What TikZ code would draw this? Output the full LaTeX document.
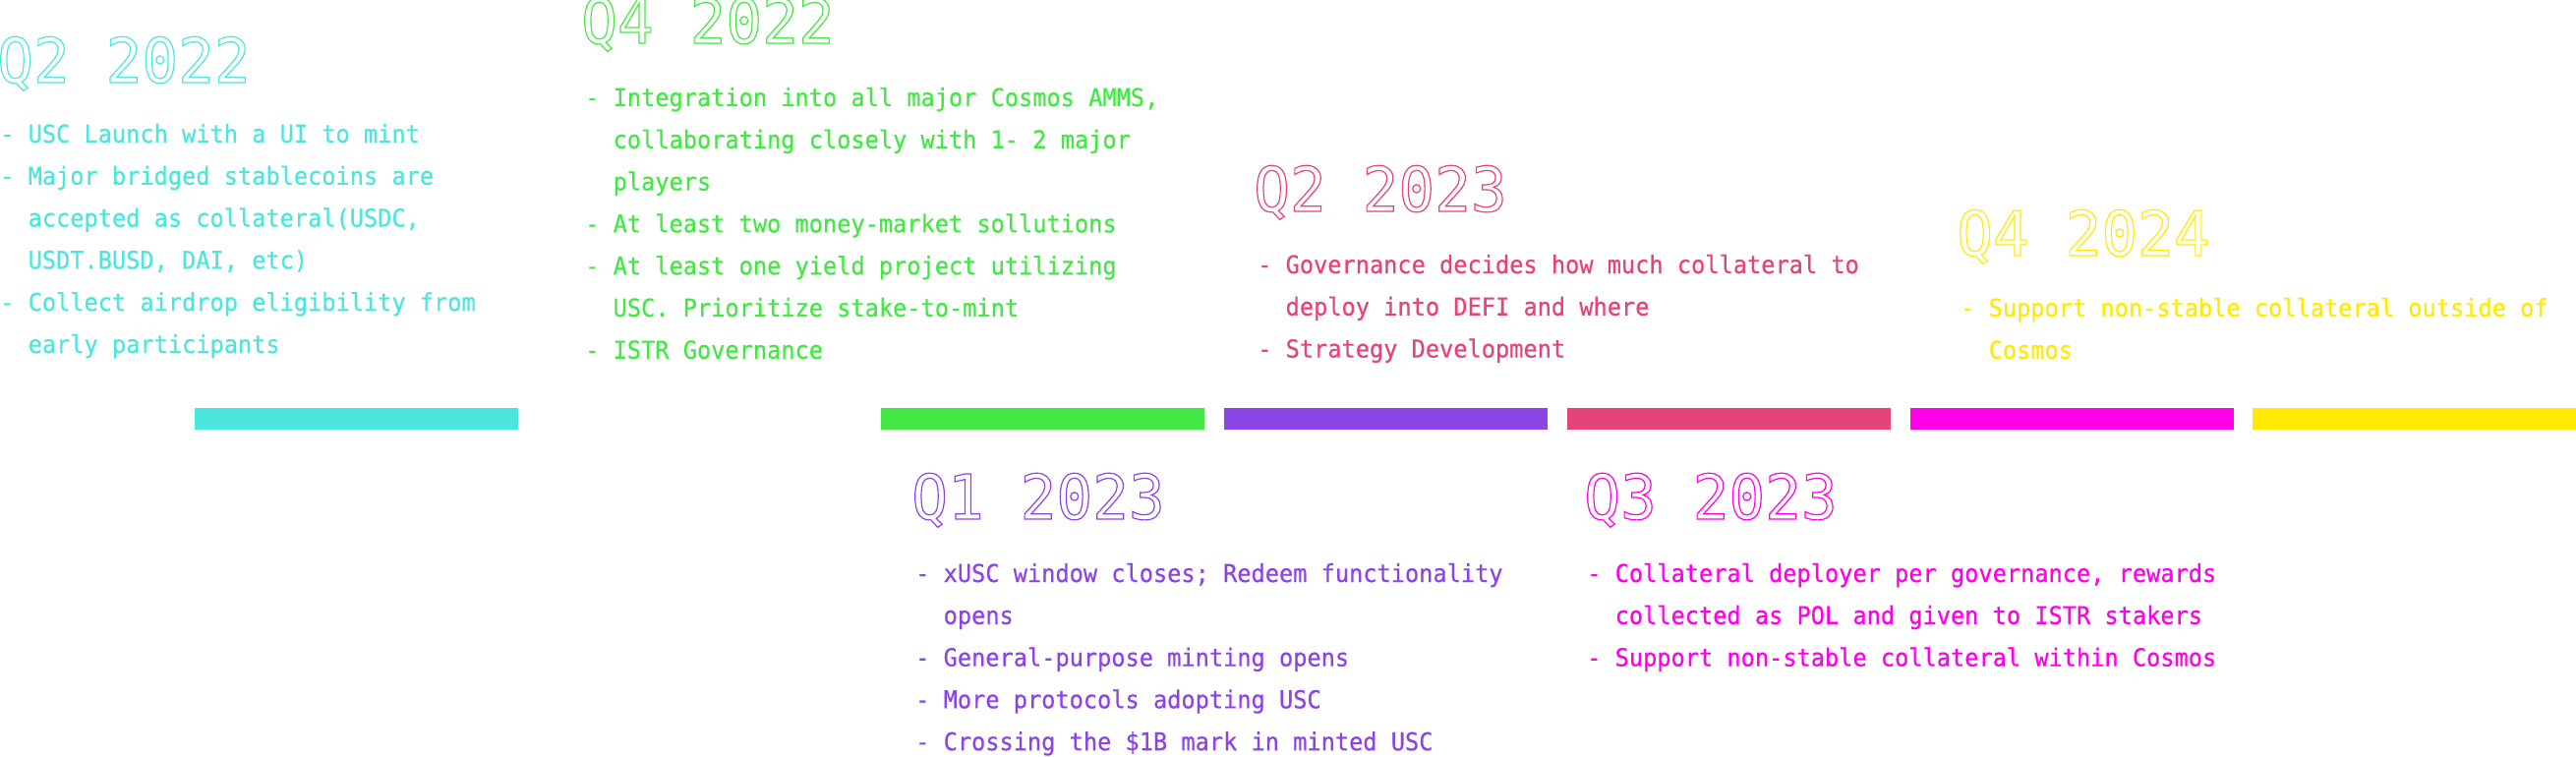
\documentclass[tikz,border=0pt]{standalone}
\usepackage{fontspec}
\newfontfamily\monof[FakeStretch=0.945,FakeBold=0.5]{DejaVu Sans Mono}
\newfontfamily\titlef[FakeStretch=0.97]{DejaVu Sans Mono}
\definecolor{ccyan}{HTML}{4CE6DF}
\definecolor{cgreen}{HTML}{44E845}
\definecolor{cpurple}{HTML}{8D44E6}
\definecolor{cred}{HTML}{E5447A}
\definecolor{cmag}{HTML}{FF00E8}
\definecolor{cyel}{HTML}{FFEA00}
\newcommand\outl[1]{\special{pdf:literal direct 1 Tr 1.2 w}#1\special{pdf:literal direct 0 Tr 0.4 w}}
\newcommand\rmitem[1]{\hbox{-~#1}}
\newcommand\rmcont[1]{\hbox{\phantom{-}~#1}}
\newcommand\rmblock[1]{\vtop{\baselineskip=42.8pt\lineskiplimit=-100pt #1}}
\tikzset{
  title/.style={anchor=base west, inner sep=0pt, font=\titlef\fontsize{63}{63}\selectfont},
  body/.style={anchor=base west, inner sep=0pt, font=\monof\fontsize{25}{42.8}\selectfont},
  bar/.style={draw=none, inner sep=0pt, outer sep=0pt, minimum width=329pt, minimum height=22pt, anchor=north west}
}
\begin{document}
\begin{tikzpicture}[x=1pt,y=-1pt]
\useasboundingbox (0,0) rectangle (2620,770);
% bars
\node[bar, fill=ccyan]   (b1) at (198,415) {};
\node[bar, fill=cgreen]  (b2) at (896,415) {};
\node[bar, fill=cpurple] (b3) at (1245,415) {};
\node[bar, fill=cred]    (b4) at (1594,415) {};
\node[bar, fill=cmag]    (b5) at (1943,415) {};
\node[bar, fill=cyel]    (b6) at (2291,415) {};
% Q2 2022
\node[title, text=ccyan] (t1) at (-3,84) {\outl{Q2 2022}};
\node[body, text=ccyan] (l1) at (0,145) {\rmblock{%
  \rmitem{USC Launch with a UI to mint}
  \rmitem{Major bridged stablecoins are}
  \rmcont{accepted as collateral(USDC,}
  \rmcont{USDT.BUSD, DAI, etc)}
  \rmitem{Collect airdrop eligibility from}
  \rmcont{early participants}}};
% Q4 2022
\node[title, text=cgreen] (t2) at (591,44) {\outl{Q4 2022}};
\node[body, text=cgreen] (l2) at (595,108) {\rmblock{%
  \rmitem{Integration into all major Cosmos AMMS,}
  \rmcont{collaborating closely with 1- 2 major}
  \rmcont{players}
  \rmitem{At least two money-market sollutions}
  \rmitem{At least one yield project utilizing}
  \rmcont{USC. Prioritize stake-to-mint}
  \rmitem{ISTR Governance}}};
% Q2 2023
\node[title, text=cred] (t3) at (1275,215) {\outl{Q2 2023}};
\node[body, text=cred] (l3) at (1279,278) {\rmblock{%
  \rmitem{Governance decides how much collateral to}
  \rmcont{deploy into DEFI and where}
  \rmitem{Strategy Development}}};
% Q4 2024
\node[title, text=cyel] (t4) at (1990,260) {\outl{Q4 2024}};
\node[body, text=cyel] (l4) at (1994,322) {\rmblock{%
  \rmitem{Support non-stable collateral outside of}
  \rmcont{Cosmos}}};
% Q1 2023
\node[title, text=cpurple] (t5) at (927,528) {\outl{Q1 2023}};
\node[body, text=cpurple] (l5) at (931,592) {\rmblock{%
  \rmitem{xUSC window closes; Redeem functionality}
  \rmcont{opens}
  \rmitem{General-purpose minting opens}
  \rmitem{More protocols adopting USC}
  \rmitem{Crossing the \$1B mark in minted USC}}};
% Q3 2023
\node[title, text=cmag] (t6) at (1611,528) {\outl{Q3 2023}};
\node[body, text=cmag] (l6) at (1614,592) {\rmblock{%
  \rmitem{Collateral deployer per governance, rewards}
  \rmcont{collected as POL and given to ISTR stakers}
  \rmitem{Support non-stable collateral within Cosmos}}};
\end{tikzpicture}
\end{document}
